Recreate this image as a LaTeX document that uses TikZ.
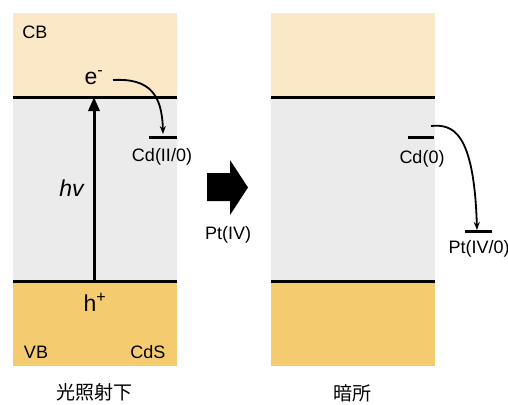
\documentclass[tikz,border=0pt]{standalone}
\usepackage{fontspec}
\setmainfont{Liberation Sans}
\newfontfamily\cjk{Noto Sans CJK JP}
\usetikzlibrary{arrows.meta}
\definecolor{cbcol}{HTML}{FBE8C6}
\definecolor{vbcol}{HTML}{F5CB70}
\definecolor{gapcol}{HTML}{EBEBEB}
\tikzset{
  lbl/.style={inner sep=0pt, font=\fontsize{18}{20}\selectfont},
  biglbl/.style={inner sep=0pt, font=\fontsize{23}{25}\selectfont},
  cjklbl/.style={inner sep=0pt, font=\fontsize{19}{21}\selectfont\cjk},
  edge/.style={line width=3pt},
  level/.style={line width=3pt},
  transfer/.style={line width=1.8pt, -{Stealth[length=8pt,width=6pt]}},
  excite/.style={line width=3pt, -{Triangle[length=14pt,width=11pt]}},
}
\begin{document}
\begin{tikzpicture}[x=1pt,y=-1pt]
\useasboundingbox (0,0) rectangle (508,404);
% left column
\fill[cbcol] (13,13) rectangle (177,97);
\fill[gapcol] (13,97) rectangle (177,281);
\fill[vbcol] (13,281) rectangle (177,366);
% right column
\fill[cbcol] (271,13) rectangle (435,97);
\fill[gapcol] (271,97) rectangle (435,281);
\fill[vbcol] (271,281) rectangle (435,366);
% band edges
\coordinate (lcbL) at (13,97); \coordinate (lcbR) at (177,97);
\coordinate (lvbL) at (13,281); \coordinate (lvbR) at (177,281);
\coordinate (rcbL) at (271,97); \coordinate (rcbR) at (435,97);
\coordinate (rvbL) at (271,281); \coordinate (rvbR) at (435,281);
\draw[edge] (lcbL) -- (lcbR);
\draw[edge] (lvbL) -- (lvbR);
\draw[edge] (rcbL) -- (rcbR);
\draw[edge] (rvbL) -- (rvbR);
% left labels
\node[lbl] (cb) at (35,32) {CB};
\node[lbl] (vb) at (36,352) {VB};
\node[lbl] (cds) at (148,352) {CdS};
\node[biglbl] (em) at (94,78) {e\textsuperscript{-}};
\node[biglbl] (hp) at (95,302) {h\textsuperscript{+}};
\node[biglbl] (hv) at (72,188) {\textit{hv}};
% excitation arrow
\coordinate (exS) at (94,281);
\coordinate (exE) at (94,97);
\draw[excite] (exS) -- (exE);
% Cd(II/0) level
\coordinate (cdIIL) at (149,137); \coordinate (cdIIR) at (177,137);
\draw[level] (cdIIL) -- (cdIIR);
\node[lbl] (cdII) at (162,157) {Cd(II/0)};
\coordinate (tr1S) at (113,80);
\coordinate (tr1E) at (163,134);
\coordinate (tr1a) at (150,78);
\coordinate (tr1b) at (162,95);
\draw[transfer] (tr1S) .. controls (tr1a) and (tr1b) .. (tr1E);
% big arrow
\fill (207,173) -- (230,173) -- (230,160) -- (248,187.5) -- (230,215) -- (230,201) -- (207,201) -- cycle;
\node[lbl] (ptiv) at (228,235) {Pt(IV)};
% right levels
\coordinate (cd0L) at (408,137); \coordinate (cd0R) at (434,137);
\draw[level] (cd0L) -- (cd0R);
\node[lbl] (cd0) at (422,159) {Cd(0)};
\coordinate (ptL) at (465,231); \coordinate (ptR) at (492,231);
\draw[level] (ptL) -- (ptR);
\node[lbl] (pt) at (479,249) {Pt(IV/0)};
\coordinate (tr2S) at (431,126);
\coordinate (tr2E) at (477,230);
\coordinate (tr2a) at (452,124);
\coordinate (tr2b) at (474,130);
\draw[transfer] (tr2S) .. controls (tr2a) and (tr2b) .. (tr2E);
% bottom captions
\node[cjklbl] (cap1) at (94,392) {光照射下};
\node[cjklbl] (cap2) at (352,393) {暗所};
\end{tikzpicture}
\end{document}
